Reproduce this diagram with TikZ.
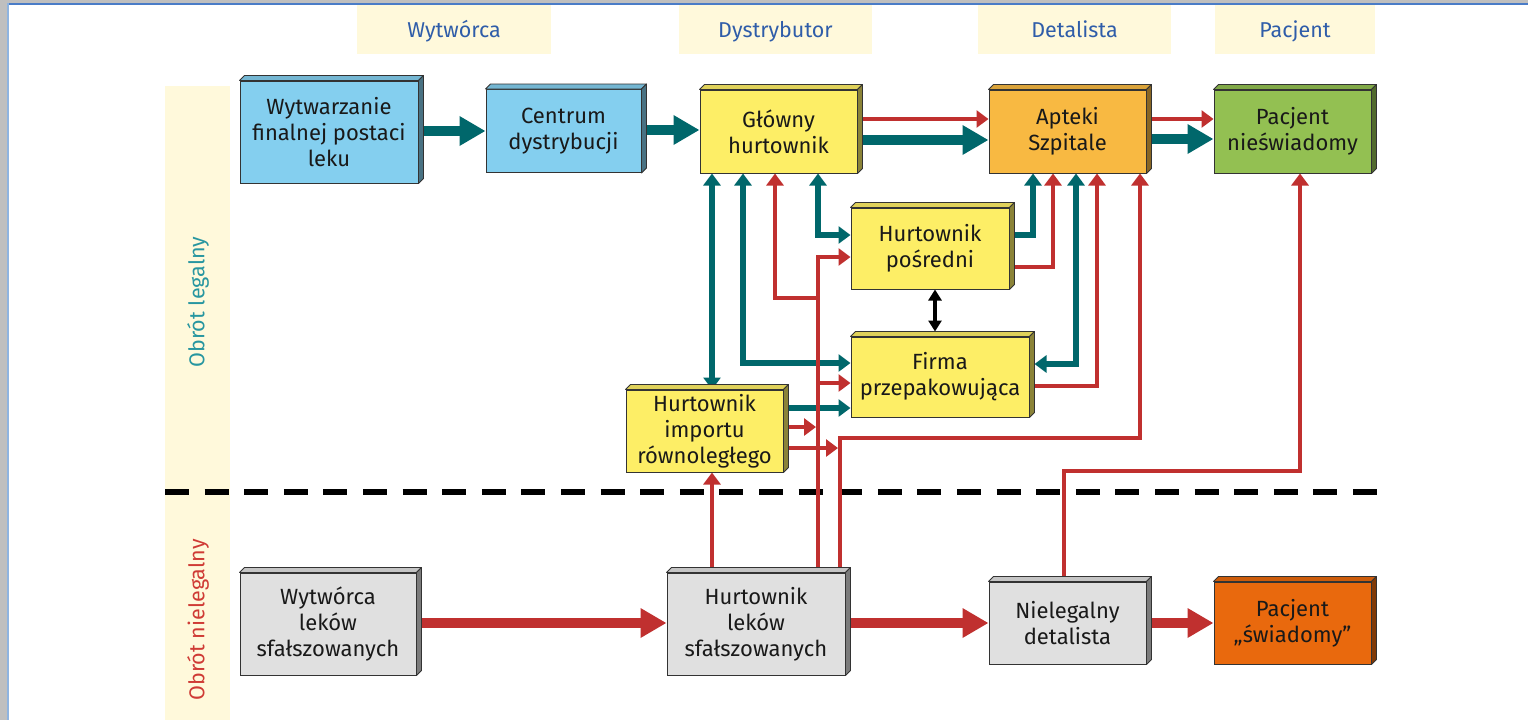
\documentclass[tikz,border=0pt]{standalone}
\usepackage{fontspec}
\setmainfont{Fira Sans}
\usetikzlibrary{arrows.meta,calc}
\definecolor{tealc}{HTML}{00676B}
\definecolor{redc}{HTML}{C0302F}
\definecolor{hdrfill}{HTML}{FFF9DB}
\definecolor{hdrtext}{HTML}{2F5DA9}
\definecolor{legtext}{HTML}{2796A0}
\definecolor{illtext}{HTML}{CF3B35}
\definecolor{bluebox}{HTML}{84CFEF}
\definecolor{yelbox}{HTML}{FDEE66}
\definecolor{orabox}{HTML}{F8B942}
\definecolor{grnbox}{HTML}{93C052}
\definecolor{grybox}{HTML}{E0E0E0}
\definecolor{orgbox}{HTML}{E9690D}
\definecolor{frametop}{HTML}{4A7CC7}
\definecolor{frameleft}{HTML}{8FB4E0}
\pgfdeclarelayer{back}
\pgfdeclarelayer{bg}
\pgfsetlayers{back,bg,main}
\newcommand\depthbox[2]{%
  \filldraw[fill=#2!88!black, draw=black!80, line width=0.8pt, line join=round]
    (#1.north west) -- ++(5,-5) -- ($(#1.north east)+(5,-5)$) -- (#1.north east) -- cycle;
  \filldraw[fill=#2!55!black, draw=black!80, line width=0.8pt, line join=round]
    (#1.north east) -- ++(5,-5) -- ($(#1.south east)+(5,-5)$) -- (#1.south east) -- cycle;
}
\tikzset{
  Tp/.tip={Triangle[length=12pt,width=17pt]},
  Tb/.tip={Triangle[length=26pt,width=28pt]},
  Tk/.tip={Triangle[length=11pt,width=13pt]},
  box/.style={draw=black!80, line width=1pt, minimum width=157, minimum height=83,
    inner sep=0pt, align=center, text=black!90,
    font=\fontsize{22}{26}\selectfont},
  hdr/.style={fill=hdrfill, minimum height=49, inner sep=0pt, text=hdrtext,
    text height=17pt, text depth=2pt, font=\fontsize{21.5}{24}\selectfont},
  tl/.style={draw=tealc, line width=5.5pt},
  rl/.style={draw=redc, line width=4.5pt},
  tk/.style={draw=tealc, line width=10pt},
  rk/.style={draw=redc, line width=10pt},
}
\begin{document}
\begin{tikzpicture}[x=1pt,y=-1pt]
\useasboundingbox (0,0) rectangle (1528,720);

% nodes
\node[box, fill=bluebox, minimum width=178, minimum height=102] (wyt) at (329,132) {Wytwarzanie\\finalnej postaci\\leku};
\node[box, fill=bluebox, minimum width=155] (cen) at (563.5,131) {Centrum\\dystrybucji};
\node[box, fill=yelbox] (glo) at (778.5,131.5) {Główny\\hurtownik};
\node[box, fill=orabox] (apt) at (1067.5,131.5) {Apteki\\Szpitale};
\node[box, fill=grnbox] (pni) at (1292.5,131.5) {Pacjent\\nieświadomy};
\node[box, fill=yelbox, minimum width=158, minimum height=81] (hpo) at (930,248.5) {Hurtownik\\pośredni};
\node[box, fill=yelbox, minimum width=178, minimum height=80] (fir) at (940,377) {Firma\\przepakowująca};
\node[box, fill=yelbox, minimum height=82] (him) at (704.5,431) {Hurtownik\\importu\\równoległego};
\node[box, fill=grybox, minimum width=176, minimum height=102] (wls) at (328,624) {Wytwórca\\leków\\sfałszowanych};
\node[box, fill=grybox, minimum width=178, minimum height=102] (hls) at (756,624) {Hurtownik\\leków\\sfałszowanych};
\node[box, fill=grybox, minimum height=82] (nde) at (1067.5,623) {Nielegalny\\detalista};
\node[box, fill=orgbox, minimum height=82] (psw) at (1292.5,623) {Pacjent\\„świadomy”};
\depthbox{wyt}{bluebox}
\depthbox{cen}{bluebox}
\depthbox{glo}{yelbox}
\depthbox{apt}{orabox}
\depthbox{pni}{grnbox}
\depthbox{hpo}{yelbox}
\depthbox{fir}{yelbox}
\depthbox{him}{yelbox}
\depthbox{wls}{grybox}
\depthbox{hls}{grybox}
\depthbox{nde}{grybox}
\depthbox{psw}{orgbox}

% background decorations
\begin{pgfonlayer}{back}
\fill[black!25] (0,0) rectangle (1528,720);
\fill[white] (9,5) rectangle (1528,720);
\fill[frametop] (7,3) rectangle (1528,5);
\fill[frameleft] (7,3) rectangle (9,720);
\node[hdr, minimum width=194] (h1) at (454,29.5) {Wytwórca};
\node[hdr, minimum width=193] (h2) at (775.5,29.5) {Dystrybutor};
\node[hdr, minimum width=193] (h3) at (1074.5,29.5) {Detalista};
\node[hdr, minimum width=160] (h4) at (1295,29.5) {Pacjent};
\fill[hdrfill] (165,86) rectangle (230,720);
\node[rotate=90, text=legtext, font=\fontsize{21.5}{24}\selectfont] (sl) at (198,302) {Obrót legalny};
\node[rotate=90, text=illtext, font=\fontsize{21.5}{24}\selectfont] (sn) at (198,620) {Obrót nielegalny};
\draw[line width=6pt, dash pattern=on 24pt off 15.6pt] (165,492) -- (1379,492);
\end{pgfonlayer}

% connectors
\coordinate (j1) at (818,298);
\coordinate (j2) at (818,383);
\coordinate (r1) at (816,427);
\coordinate (r2) at (838,448);
\begin{pgfonlayer}{bg}
% thick main flow
\draw[tk, -Tb] (wyt.east |- cen.west) -- (cen.west);
\draw[tk, -Tb] (cen.east |- 0,130) -- (glo.west |- 0,130);
\draw[tk, -Tb] (glo.east |- 0,140) -- (apt.west |- 0,140);
\draw[tk, -Tb] (apt.east |- 0,139) -- (pni.west |- 0,139);
\draw[rk, -Tb] (wls.east |- 0,623) -- (hls.west |- 0,623);
\draw[rk, -Tb] (hls.east |- 0,623) -- (nde.west |- 0,623);
\draw[rk, -Tb] (nde.east |- 0,623) -- (psw.west |- 0,623);
% thin red top
\draw[rl, -Tp] (glo.east |- 0,119) -- (apt.west |- 0,119);
\draw[rl, -Tp] (apt.east |- 0,119) -- (pni.west |- 0,119);
% thin teal
\draw[tl, Tp-Tp] (glo.south -| 712,0) -- (him.north -| 712,0);
\draw[tl, Tp-Tp] (glo.south -| 743,0) |- (fir.west |- 0,363);
\draw[tl, Tp-Tp] (glo.south -| 818,0) |- (hpo.west |- 0,235);
\draw[tl, -Tp] (him.east |- 0,408) -- (fir.west |- 0,408);
\draw[tl, -Tp] (hpo.east |- 0,235) -| (apt.south -| 1033,0);
\draw[tl, Tp-Tp] (apt.south -| 1076,0) |- ($(fir.east |- 0,364)+(5,0)$);
% thin red
\draw[rl, -Tp] (hls.north -| 818,0) |- (hpo.west |- 0,257);
\draw[rl, -Tp] (j1) -| (glo.south -| 775,0);
\draw[rl, -Tp] (j2) -- (fir.west |- 0,383);
\draw[rl, -Tp] (him.east |- 0,427) -- (r1);
\draw[rl, -Tp] (him.east |- 0,448) -- (r2);
\draw[rl, -Tp] (hls.north -| 840,0) -- (840,438) -- (1140,438) -- (apt.south -| 1140,0);
\draw[rl, -Tp] (hls.north -| 712,0) -- (him.south -| 712,0);
\draw[rl, -Tp] (hpo.east |- 0,267) -| (apt.south -| 1053,0);
\draw[rl, -Tp] (fir.east |- 0,386) -| (apt.south -| 1097,0);
\draw[rl, -Tp] (nde.north -| 1064,0) |- (1300,471) -- (pni.south -| 1300,0);
% black
\draw[line width=3.5pt, Tk-Tk] (hpo.south -| 935,0) -- ($(fir.north -| 935,0)+(0,-5)$);
\end{pgfonlayer}
\end{tikzpicture}
\end{document}
